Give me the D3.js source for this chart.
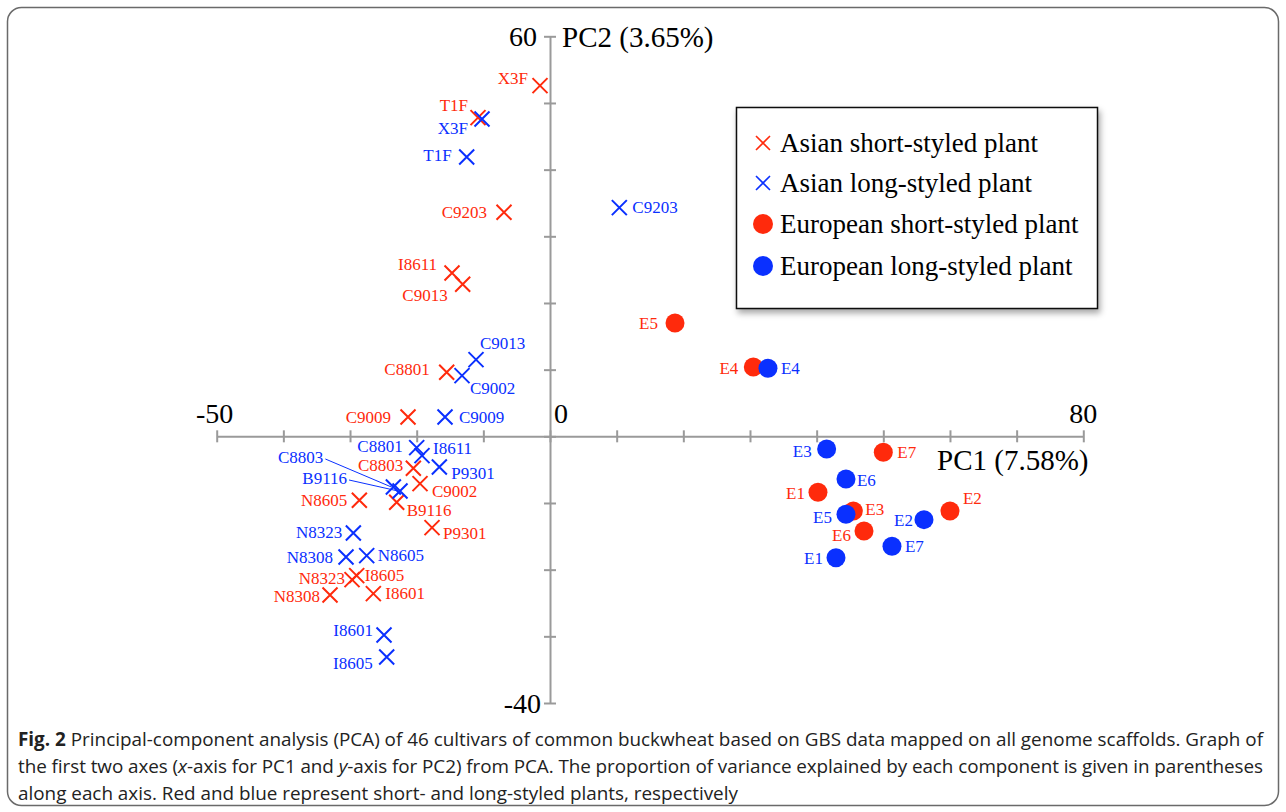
<!DOCTYPE html>
<html>
<head>
<meta charset="utf-8">
<script src="https://cdn.jsdelivr.net/npm/d3@7"></script>
<style>
  body { margin: 0; background: #fff; }
  svg { display: block; }
</style>
</head>
<body>
<svg id="chart" width="1286" height="812"></svg>
<script>
// PCA scores (PC1, PC2)
const asianShortNames = ["X3F", "T1F", "C9203", "I8611", "C9013", "C8801", "C9009", "C8803",
  "C9002", "B9116", "N8605", "P9301", "N8323", "I8605", "N8308", "I8601"];
const asianShortPC1 = [-1.5, -10.8, -6.9, -14.7, -13.1, -15.5, -21.3, -20.5,
  -19.5, -23.0, -28.6, -17.7, -29.7, -29.0, -33.0, -26.5];
const asianShortPC2 = [52.6, 47.8, 33.6, 24.5, 22.8, 9.6, 2.9, -4.8,
  -7.1, -9.9, -9.6, -13.7, -21.5, -20.9, -23.8, -23.6];

const asianLongNames = ["X3F", "T1F", "C9203", "C9013", "C9002", "C9009", "C8801", "I8611",
  "P9301", "C8803", "B9116", "N8323", "N8308", "N8605", "I8601", "I8605"];
const asianLongPC1 = [-10.2, -12.5, 10.4, -11.1, -13.2, -15.75, -20.0, -19.2,
  -16.6, -23.5, -22.5, -29.5, -30.6, -27.5, -24.9, -24.5];
const asianLongPC2 = [47.6, 41.9, 34.3, 11.5, 9.1, 2.9, -1.7, -2.9,
  -4.6, -7.6, -8.2, -14.5, -18.1, -17.9, -29.8, -33.1];

const euroShortNames = ["E5", "E4", "E7", "E1", "E3", "E2", "E6"];
const euroShortPC1 = [18.75, 30.5, 50.0, 40.2, 45.5, 60.0, 47.1];
const euroShortPC2 = [17.0, 10.4, -2.4, -8.4, -11.2, -11.2, -14.2];

const euroLongNames = ["E4", "E3", "E6", "E5", "E2", "E7", "E1"];
const euroLongPC1 = [32.7, 41.5, 44.4, 44.4, 56.1, 51.3, 42.9];
const euroLongPC2 = [10.2, -1.9, -6.4, -11.7, -12.5, -16.5, -18.2];

const xTicks = [-50, -40, -30, -20, -10, 0, 10, 20, 30, 40, 50, 60, 70, 80];
const yTicks = [-40, -30, -20, -10, 0, 10, 20, 30, 40, 50, 60];

const legendLabels = ["Asian short-styled plant", "Asian long-styled plant",
  "European short-styled plant", "European long-styled plant"];

const captionLines = [
  [["b", "Fig. 2"], ["n", " Principal-component analysis (PCA) of 46 cultivars of common buckwheat based on GBS data mapped on all genome scaffolds. Graph of"]],
  [["n", "the first two axes ("], ["i", "x"], ["n", "-axis for PC1 and "], ["i", "y"], ["n", "-axis for PC2) from PCA. The proportion of variance explained by each component is given in parentheses"]],
  [["n", "along each axis. Red and blue represent short- and long-styled plants, respectively"]]
];

// label placement: [anchor, dx, dy] in pixels from the marker
const labelPlace = {
  as: {
    X3F: ["end", -12, -7], T1F: ["end", -10, -12], C9203: ["end", -17, 0], I8611: ["end", -15, -9],
    C9013: ["end", -15, 11], C8801: ["end", -17, -3], C9009: ["end", -17, 0], C8803: ["end", -10, -3],
    C9002: ["start", 12, 8], B9116: ["start", 10, 8], N8605: ["end", -12, 0], P9301: ["start", 11, 6],
    N8323: ["end", -7, -1], I8605: ["start", 8, 0], N8308: ["end", -10, 1], I8601: ["start", 12, 0]
  },
  al: {
    X3F: ["end", -14, 9], T1F: ["end", -15, -2], C9203: ["start", 13, 0], C9013: ["start", 4, -16],
    C9002: ["start", 8, 13], C9009: ["start", 14, 0], C8801: ["end", -14, -1], I8611: ["start", 11, -7],
    P9301: ["start", 12, 6], C8803: ["end", -70, -30, true], B9116: ["end", -53, -13, true],
    N8323: ["end", -11, -1], N8308: ["end", -13, 0], N8605: ["start", 11, 0],
    I8601: ["end", -11, -5], I8605: ["end", -14, 6]
  },
  es: {
    E5: ["end", -17, 0], E4: ["end", -15, 1], E7: ["start", 14, 0], E1: ["end", -13, 1],
    E3: ["start", 12, -2], E2: ["start", 13, -13], E6: ["end", -13, 4]
  },
  el: {
    E4: ["start", 13, 0], E3: ["end", -15, 2], E6: ["start", 11, 1], E5: ["end", -14, 3],
    E2: ["end", -11, 1], E7: ["start", 13, 0], E1: ["end", -13, 1]
  }
};

const red = "#ff2a0c";
const blue = "#0a30ff";
const serif = "'Liberation Serif', 'Times New Roman', serif";

let svg = d3.select("#chart");

// outer figure frame
svg.append("rect")
  .attr("x", 7.5).attr("y", 7.5)
  .attr("width", 1271).attr("height", 798)
  .attr("rx", 14)
  .attr("fill", "none")
  .attr("stroke", "#6a6a6a")
  .attr("stroke-width", 1.5);

let xScale = d3.scaleLinear().domain([-50, 80]).range([216.7, 1083.3]);
let yScale = d3.scaleLinear().domain([-40, 60]).range([703, 36.3]);

const axisColor = "#9a9a9a";

// x axis through PC2 = 0
let xAxis = svg.append("g")
  .attr("transform", `translate(0,${yScale(0)})`)
  .call(d3.axisBottom(xScale).tickValues(xTicks).tickFormat("").tickSizeOuter(0));
xAxis.select(".domain").attr("stroke", axisColor).attr("stroke-width", 2);
xAxis.selectAll(".tick line").attr("y1", -6).attr("y2", 6)
  .attr("stroke", axisColor).attr("stroke-width", 2);

// y axis through PC1 = 0
let yAxis = svg.append("g")
  .attr("transform", `translate(${xScale(0)},0)`)
  .call(d3.axisLeft(yScale).tickValues(yTicks).tickFormat("").tickSizeOuter(0));
yAxis.select(".domain").attr("stroke", axisColor).attr("stroke-width", 2);
yAxis.selectAll(".tick line").attr("x1", -6).attr("x2", 6)
  .attr("stroke", axisColor).attr("stroke-width", 2);

// axis end labels
let axisText = svg.append("g").attr("font-family", serif).attr("font-size", 28).attr("fill", "#000");
axisText.append("text").attr("x", xScale(-50) - 2).attr("y", yScale(0) - 13)
  .attr("text-anchor", "middle").text("-50");
axisText.append("text").attr("x", xScale(0) + 11).attr("y", yScale(0) - 13)
  .attr("text-anchor", "middle").text("0");
axisText.append("text").attr("x", xScale(80)).attr("y", yScale(0) - 13)
  .attr("text-anchor", "middle").text("80");
axisText.append("text").attr("x", xScale(0) - 13).attr("y", yScale(60) + 10)
  .attr("text-anchor", "end").text("60");
axisText.append("text").attr("x", xScale(0) - 9).attr("y", yScale(-40) + 10)
  .attr("text-anchor", "end").text("-40");
axisText.append("text").attr("x", xScale(0) + 12).attr("y", yScale(60) + 11)
  .attr("font-size", 29).text("PC2 (3.65%)");
axisText.append("text").attr("x", 937).attr("y", yScale(0) + 34)
  .attr("font-size", 29).text("PC1 (7.58%)");

// build point tables
function makeRows(names, pc1, pc2, key) {
  return names.map((n, i) => ({ name: n, pc1: pc1[i], pc2: pc2[i], place: labelPlace[key][n] }));
}
let asianShort = makeRows(asianShortNames, asianShortPC1, asianShortPC2, "as");
let asianLong = makeRows(asianLongNames, asianLongPC1, asianLongPC2, "al");
let euroShort = makeRows(euroShortNames, euroShortPC1, euroShortPC2, "es");
let euroLong = makeRows(euroLongNames, euroLongPC1, euroLongPC2, "el");

const crossR = 7.5;

function drawCrosses(rows, color) {
  let g = svg.append("g").attr("stroke", color).attr("stroke-width", 2).attr("fill", "none");
  g.selectAll("path")
    .data(rows)
    .join("path")
    .attr("d", d => {
      let cx = xScale(d.pc1), cy = yScale(d.pc2);
      return `M${cx - crossR},${cy - crossR}L${cx + crossR},${cy + crossR}M${cx - crossR},${cy + crossR}L${cx + crossR},${cy - crossR}`;
    });
}

function drawCircles(rows, color) {
  svg.append("g").selectAll("circle")
    .data(rows)
    .join("circle")
    .attr("cx", d => xScale(d.pc1))
    .attr("cy", d => yScale(d.pc2))
    .attr("r", 9.5)
    .attr("fill", color);
}

function drawLabels(rows, color) {
  let g = svg.append("g").attr("font-family", serif).attr("font-size", 17).attr("fill", color);
  rows.forEach(d => {
    let cx = xScale(d.pc1), cy = yScale(d.pc2);
    let [anchor, dx, dy, leader] = d.place;
    g.append("text")
      .attr("x", cx + dx)
      .attr("y", cy + dy)
      .attr("dy", "0.33em")
      .attr("text-anchor", anchor)
      .text(d.name);
    if (leader) {
      svg.append("line")
        .attr("x1", cx + dx + 2).attr("y1", cy + dy + 2)
        .attr("x2", cx - 2).attr("y2", cy)
        .attr("stroke", color).attr("stroke-width", 1);
    }
  });
}

drawCrosses(asianShort, red);
drawCrosses(asianLong, blue);
drawCircles(euroShort, red);
drawCircles(euroLong, blue);
drawLabels(asianShort, red);
drawLabels(asianLong, blue);
drawLabels(euroShort, red);
drawLabels(euroLong, blue);

// legend
let defs = svg.append("defs");
let shadow = defs.append("filter").attr("id", "shadow")
  .attr("x", "-10%").attr("y", "-10%").attr("width", "130%").attr("height", "130%");
shadow.append("feDropShadow").attr("dx", 2).attr("dy", 4).attr("stdDeviation", 3)
  .attr("flood-color", "#000").attr("flood-opacity", 0.35);

let legend = svg.append("g");
legend.append("rect")
  .attr("x", 736.5).attr("y", 107.5)
  .attr("width", 361).attr("height", 201)
  .attr("fill", "#fff")
  .attr("stroke", "#111")
  .attr("stroke-width", 1.5)
  .attr("filter", "url(#shadow)");

const legendY = [143, 183, 224, 266];
const legendColor = [red, blue, red, blue];
legendLabels.forEach((lab, i) => {
  let cy = legendY[i], cx = 763;
  if (i < 2) {
    let r = 7;
    legend.append("path")
      .attr("d", `M${cx - r},${cy - r}L${cx + r},${cy + r}M${cx - r},${cy + r}L${cx + r},${cy - r}`)
      .attr("stroke", legendColor[i]).attr("stroke-width", 1.6).attr("fill", "none");
  } else {
    legend.append("circle").attr("cx", cx).attr("cy", cy).attr("r", 10).attr("fill", legendColor[i]);
  }
  legend.append("text")
    .attr("x", 780).attr("y", cy)
    .attr("dy", "0.33em")
    .attr("font-family", serif)
    .attr("font-size", 27)
    .attr("fill", "#000")
    .text(lab);
});

// caption
let caption = svg.append("g")
  .attr("font-family", "'Open Sans', 'Noto Sans', sans-serif")
  .attr("fill", "#222");
const capBase = [746, 773, 800];
let lineNodes = captionLines.map((parts, li) => {
  let t = caption.append("text").attr("x", 18).attr("y", capBase[li]).attr("font-size", 20);
  parts.forEach(([style, txt]) => {
    let s = t.append("tspan").text(txt);
    if (style === "b") s.attr("font-weight", "bold");
    if (style === "i") s.attr("font-style", "italic");
  });
  return t;
});
// fit font size so the first line spans the frame width
let w0 = lineNodes[0].node().getComputedTextLength();
let fs = 20 * 1245 / w0;
lineNodes.forEach(t => t.attr("font-size", fs));
[0, 1].forEach(i => {
  lineNodes[i].attr("textLength", 1245).attr("lengthAdjust", "spacing");
});
</script>
</body>
</html>
